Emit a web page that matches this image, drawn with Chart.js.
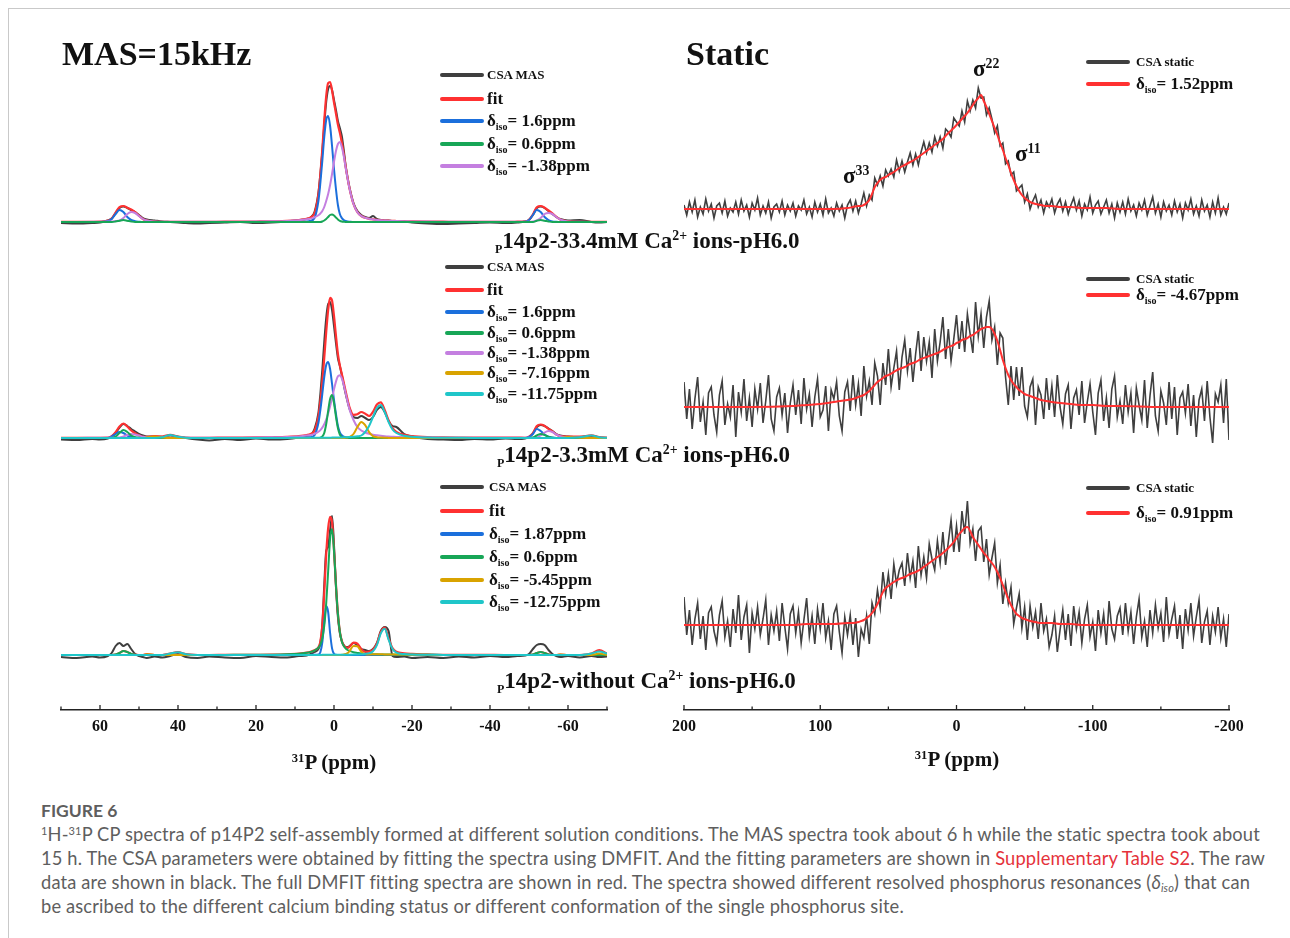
<!DOCTYPE html>
<html>
<head>
<meta charset="utf-8">
<script src="https://cdn.jsdelivr.net/npm/chart.js@4.4.1/dist/chart.umd.min.js"></script>
<style>
  html, body { margin: 0; padding: 0; background: #fff; }
  body { width: 1290px; height: 938px; overflow: hidden; position: relative; font-family: "Liberation Serif", "Times New Roman", serif; }
  .frame { position: absolute; left: 8px; top: 8px; width: 1300px; height: 940px; border-top: 1.5px solid #c9c9c9; border-left: 1.5px solid #c9c9c9; }
  canvas { position: absolute; top: 0; }
  .t { position: absolute; font-weight: bold; color: #111; white-space: nowrap; line-height: 1; }
  .t sup { font-size: 0.6em; vertical-align: 0.55em; line-height: 0; }
  .row { position: absolute; height: 20px; display: flex; align-items: center; white-space: nowrap; font-weight: bold; color: #111; }
  .sw { height: 4px; border-radius: 2px; }
  .lt { line-height: 20px; font-size: 17px; }
  .lt.small { font-size: 13px; }
  .lt sub { font-size: 10px; vertical-align: -4px; line-height: 0; }
  .cap { position: absolute; left: 41px; font-family: Lato, "Open Sans", sans-serif; color: #5e5e5e; white-space: nowrap; font-size: 18.3px; letter-spacing: 0.15px; line-height: 24px; }
  .cap sup { font-size: 11px; vertical-align: 6px; line-height: 0; }
  .cap sub { font-size: 11px; vertical-align: -3px; line-height: 0; }
  .cap .link { color: #e5323b; }
  .fig { position: absolute; left: 41px; top: 799px; font-family: Lato, "Open Sans", sans-serif; font-weight: bold; color: #5e5e5e; font-size: 17.5px; line-height: 24px; }
</style>
</head>
<body>
<div class="frame"></div>
<canvas id="mas" width="645" height="790" style="left:0"></canvas>
<canvas id="static" width="645" height="790" style="left:645px"></canvas>

<div class="fig">FIGURE 6</div>
<div class="cap" style="top:822px">
<sup>1</sup>H-<sup>31</sup>P CP spectra of p14P2 self-assembly formed at different solution conditions. The MAS spectra took about 6 h while the static spectra took about<br>
15 h. The CSA parameters were obtained by fitting the spectra using DMFIT. And the fitting parameters are shown in <span class="link">Supplementary Table S2</span>. The raw<br>
data are shown in black. The full DMFIT fitting spectra are shown in red. The spectra showed different resolved phosphorus resonances (<i>δ<sub>iso</sub></i>) that can<br>
be ascribed to the different calcium binding status or different conformation of the single phosphorus site.
</div>

<script>
// ---- MAS (15 kHz) panel: chemical shift grid (ppm) and line heights ----
const masPpm = [70,66,62,60,58,57,56,55,54,53,
  52,51,50,49,48,46,44,42,40,38,
  35,32,28,24,20,16,12,9,7,6,
  5,4,3.5,3,2.5,2,1.5,1,0.5,0,
  -0.5,-1,-1.5,-2,-2.5,-3,-3.5,-4,-5,-6,
  -7,-8,-9,-10,-11,-12,-13,-14,-15,-16,
  -18,-20,-24,-28,-32,-36,-40,-44,-47,-49,
  -50,-51,-52,-53,-54,-55,-56,-57,-58,-60,
  -63,-66,-68,-70];

// 33.4 mM Ca2+
const s1Raw = [-1,-1.5,-1,-0.5,1.5,3.5,9,14,15.5,14,
  12,10,7,4,2.5,1.5,0.5,0,-0.5,-1,
  -1.5,-1,-0.5,0,-1,-0.5,0.5,2,3,4.5,
  10,29,48,70,97,120,133,136,132,122,
  112,101,94,86,72,56,44,34,19,11,
  7,5,4,6,3,2,1.5,1.5,1,1,
  0.5,-0.5,-1.5,-2,-1.5,-1,-0.5,-1,-0.5,0.5,
  2,7,14,15.5,14,11,8,5,3,1.5,
  2,0,-0.5,0];
const s1Fit = [0.1,0.1,0.2,0.3,1.4,3.5,9.5,14.8,16,14.3,
  12.5,9.8,6.3,3,1.5,0.5,0.2,0.2,0.15,0.15,
  0.15,0.2,0.3,0.35,0.5,0.7,1.1,2,3.2,4.7,
  8.6,27.7,47.5,72.5,101.5,126,139,140,131.5,119.5,
  108.5,97.5,89.2,79.5,68.2,55,43.5,33.3,18,9.8,
  6,4.2,3.2,2.6,2.1,1.7,1.5,1.3,1.1,1.0,
  0.8,0.6,0.4,0.3,0.2,0.2,0.2,0.2,0.3,0.6,
  2.3,7.5,14.8,16,14.3,11.5,8.6,5.2,2.5,0.6,
  0.2,0.1,0.1,0.1];
const s1Blue = [0,0,0,0,1,3,8,12,10,5,
  2,0.8,0.3,0,0,0,0,0,0,0,
  0,0,0,0,0,0,0,0.2,0.5,1.3,
  4,21,39,61,85,102,106,96,76,53,
  33,17,8,4,2,1,0.5,0.3,0,0,
  0,0,0,0,0,0,0,0,0,0,
  0,0,0,0,0,0,0,0,0,0.3,
  2,7,12,10,5,2,0.6,0.2,0,0,
  0,0,0,0];
const s1Green = [0,0,0,0,0,0,0.5,1.3,2,1.3,
  0.5,0,0,0,0,0,0,0,0,0,
  0,0,0,0,0,0,0,0,0,0,
  0,0,0,0.5,1.5,3,5,7,7.5,6.5,
  4.5,2.5,1.2,0.5,0.2,0,0,0,0,0,
  0,0,0,0,0,0,0,0,0,0,
  0,0,0,0,0,0,0,0,0,0,
  0,0,1.3,2,1.3,0.5,0,0,0,0,
  0,0,0,0];
const s1Purple = [0.1,0.1,0.2,0.3,0.4,0.5,1,1.5,4,8,
  10,9,6,3,1.5,0.5,0.2,0.2,0.15,0.15,
  0.15,0.2,0.3,0.35,0.5,0.7,1.1,1.8,2.7,3.4,
  4.6,6.7,8.5,11,15,21,28,37,48,60,
  71,78,80,75,66,54,43,33,18,9.8,
  6,4.2,3.2,2.6,2.1,1.7,1.5,1.3,1.1,1.0,
  0.8,0.6,0.4,0.3,0.2,0.2,0.2,0.2,0.3,0.3,
  0.3,0.5,1.5,4,8,9,8,5,2.5,0.6,
  0.2,0.1,0.1,0.1];

// 3.3 mM Ca2+
const s2Raw = [-1.5,-2,-1,-1.5,-0.5,1.5,5,10.5,14,12,
  9,6.5,4,2.5,1.5,1.5,1.2,2.5,1.2,0,
  -1.5,-2.5,-1,-2,-0.5,-1.5,-1,0.5,2,3,
  9,25,44,68,96,120,134,136,128,112,
  95,80,72,63,53,44,36,29,21,20,
  22,20,18,21,28,31,26,17,12,11,
  4,1.5,-1,-1.5,-2,-1,-1.5,-0.5,-1,-0.5,
  1,4.5,11,13,12,9.5,7,4,2.5,1.5,
  1,2,0.5,0];
const s2Fit = [0.1,0.1,0.2,0.25,0.3,1.85,5.9,11.5,14.5,11.5,
  7.5,4.7,2.8,1.2,1.1,1.8,1.5,3.2,1.4,0.5,
  0.2,0.25,0.35,0.43,0.55,0.75,1.12,1.85,2.97,4.08,
  7.2,21.5,36.6,56.2,80.2,105.8,127.8,140.2,137.4,122.1,
  102.4,84.2,72.6,64.1,55.4,46.4,37.9,30.5,23.2,23.7,
  26,24.3,22,26.2,33.5,35.6,28,17.6,9.8,6.1,
  3.1,1.9,0.9,0.57,0.4,0.3,0.3,0.3,0.3,0.25,
  1.25,4.8,12.1,13.5,12,9.2,6.7,3.5,1.8,1.5,
  1.3,2.6,0.9,0.3];
const s2Blue = [0,0,0,0,0,1.5,4,6,5,2.5,
  1,0.4,0,0,0,0,0,0,0,0,
  0,0,0,0,0,0,0,0.1,0.4,0.9,
  2.9,15,28,44,61,73,76,69,54,38,
  24,12,5.7,2.9,1.4,0.7,0.4,0.2,0,0,
  0,0,0,0,0,0,0,0,0,0,
  0,0,0,0,0,0,0,0,0,0,
  1,4,9,7,3.5,1.2,0.4,0,0,0,
  0,0,0,0];
const s2Green = [0,0,0,0,0,0,1.5,5,8,6,
  2.5,0.8,0.3,0,0,0,0,0,0,0,
  0,0,0,0,0,0,0,0,0,0,
  0,0.1,0.4,1.5,5,14,27,39,43,35,
  21.5,10,3.5,1,0.3,0,0,0,0,0,
  0,0,0,0,0,0,0,0,0,0,
  0,0,0,0,0,0,0,0,0,0,
  0,0.5,2.5,4,3,1,0.3,0,0,0,
  0,0,0,0];
const s2Purple = [0.1,0.1,0.2,0.25,0.3,0.35,0.4,0.5,1.5,3,
  4,3.5,2.5,1.2,0.6,0.3,0.2,0.2,0.2,0.2,
  0.2,0.25,0.25,0.33,0.45,0.65,1.0,1.6,2.4,3.0,
  4.1,6.2,7.9,10.4,13.9,18.5,24.5,31.8,40,48.7,
  56.4,61.7,62.8,59.6,53,44.6,36,28.2,18,11,
  7.5,5.5,4.2,3.3,2.7,2.2,1.8,1.5,1.3,1.1,
  0.9,0.7,0.5,0.35,0.25,0.2,0.2,0.2,0.2,0.25,
  0.25,0.3,0.6,2.5,5.5,7,6,3.5,1.8,0.5,
  0.2,0.1,0.1,0.1];
const s2Orange = [0,0,0,0,0,0,0,0,0,0,
  0,0,0,0,0.5,1.5,0.5,0,0,0,
  0,0,0,0,0,0,0,0,0,0,
  0,0,0,0,0,0,0,0,0,0,
  0,0,0,0,0,0.3,0.6,1.1,4,11,
  16,12.8,5.8,1.9,0.8,0.4,0.2,0.1,0,0,
  0,0,0,0,0,0,0,0,0,0,
  0,0,0,0,0,0,0,0,0,1,
  0.3,0,0,0];
const s2Cyan = [0,0,0,0,0,0,0,0,0,0,
  0,0,0,0,0,0,0.8,3,1.2,0.3,
  0,0,0.1,0.1,0.1,0.1,0.12,0.15,0.17,0.18,
  0.2,0.22,0.25,0.27,0.28,0.3,0.32,0.36,0.38,0.42,
  0.45,0.5,0.55,0.6,0.66,0.75,0.85,0.95,1.2,1.65,
  2.5,6,12,21,30,33,26,16,8.5,5,
  2.2,1.2,0.4,0.22,0.15,0.1,0.1,0.1,0.1,0.05,
  0.05,0,0,0,0,0,0,0,0,0,
  0.8,2.5,0.8,0.2];

// without Ca2+
const s3Raw = [-2,-3,-1.5,-2.5,-1,2,9,12,9,11,
  6,1,-1,-2,-3,-1.5,-2.5,-1,1,-2,
  -3,-1.5,-2.5,-3,-1,-2,-2.5,-1,-0.5,1,
  3,6,12,30,70,104,108,125,139,110,
  68,38,22,14,10,8,8,9,12,10,
  6,5,4,6,12,24,28,24,-1,-2,
  -1.5,-3,-2,-3,-1.5,-2.5,-1,-2,-1,-0.5,
  1,6,10,11,10,5,1,-1,-2,-1,
  -2.5,-1,-2,-1.5];
const s3Fit = [0,0,0,0,0,0,0.5,2,4,3,
  1,0.3,0,0,0.8,0,0,1.5,2.8,0.8,
  0,0,0.1,0.15,0.22,0.35,0.75,1.4,2.3,3.2,
  4.7,7.8,13.3,29.4,62,100.7,126.9,138.2,132.8,105.3,
  70.4,41.6,23.4,14,9.6,7.7,7.2,8.3,12.3,11.4,
  5.7,3.1,3.3,5.3,11.3,22.9,27.4,16.4,6.9,3.3,
  1.6,1.05,0.6,0.2,0.1,0.1,0.05,0,0,0,
  0,0.5,2,3,2,0.6,0,0,0.5,0,
  0,1.5,5,1.5];
const s3Blue = [0,0,0,0,0,0,0,0,0,0,
  0,0,0,0,0,0,0,0,0,0,
  0,0,0,0,0,0,0,0,0,0.1,
  0.2,0.4,2.8,12.6,32.5,49,43,22,6.6,1.1,
  0.2,0,0,0,0,0,0,0,0,0,
  0,0,0,0,0,0,0,0,0,0,
  0,0,0,0,0,0,0,0,0,0,
  0,0,0,0,0,0,0,0,0,0,
  0,0,0,0];
const s3Green = [0,0,0,0,0,0,0.5,2,4,3,
  1,0.3,0,0,0,0,0,0,0,0,
  0,0,0.1,0.15,0.22,0.35,0.7,1.3,2.2,3.0,
  4.4,7.3,10.4,16.7,29.3,51.6,83.7,116,126,104,
  70,41.4,23.2,13.6,8.9,6.4,5,4.1,2.8,2.1,
  1.5,1.2,0.95,0.8,0.65,0.55,0.5,0.45,0.4,0.35,
  0.3,0.25,0.18,0.1,0.1,0.1,0.05,0,0,0,
  0,0.5,2,3,2,0.6,0,0,0,0,
  0,0,0,0];
const s3Orange = [0,0,0,0,0,0,0,0,0,0,
  0,0,0,0,0.8,0,0,0,0,0,
  0,0,0,0,0,0,0,0,0,0,
  0,0,0,0,0,0,0,0,0,0,
  0,0,0,0.2,0.4,1,1.9,3.9,9.1,8.7,
  3.4,0.8,0.6,0.8,0.7,0.7,0.6,0.6,0.5,0.5,
  0.4,0.3,0.2,0,0,0,0,0,0,0,
  0,0,0,0,0,0,0,0,0.5,0,
  0,0,1.5,0];
const s3Cyan = [0,0,0,0,0,0,0,0,0,0,
  0,0,0,0,0,0,0,1.5,2.8,0.8,
  0,0,0,0,0,0,0.05,0.07,0.08,0.09,
  0.1,0.11,0.12,0.13,0.13,0.14,0.15,0.16,0.17,0.18,
  0.19,0.2,0.21,0.24,0.26,0.28,0.31,0.34,0.43,0.55,
  0.75,1.1,1.75,3.7,9.9,21.6,26.3,15.3,6,2.4,
  0.9,0.5,0.2,0.1,0,0,0,0,0,0,
  0,0,0,0,0,0,0,0,0,0,
  0,1.5,3.5,1.5];

// ---- Static panel: raw spectra every 2 ppm from 200 to -200 ----
const staticStart = 200, staticStep = 2;
const stRaw1 = [4,-6,7,-3,9,-8,2,-5,10,-2,5,-9,3,6,-4,8,-7,1,-3,7,
  -5,9,-2,4,-8,6,-1,11,-6,3,-4,7,-9,2,5,-3,8,-6,4,-2,
  6,-7,3,-1,9,-5,2,-8,7,-3,5,-6,10,-4,1,-7,6,-2,4,-9,
  4,9,-2,8,-4,5,16,3,14,9,31,24,33,23,39,33,40,32,49,38,
  48,37,47,56,44,55,44,57,67,56,66,57,72,63,72,61,80,77,72,91,
  87,83,98,87,108,98,109,101,121,111,112,94,101,90,76,83,63,66,45,48,
  34,37,18,21,24,7,15,0,8,14,2,9,-4,7,2,10,-4,5,10,-2,
  7,-5,4,11,-1,8,-7,5,-1,12,-4,4,8,-5,2,9,-4,5,-9,6,
  -3,7,-5,10,-2,4,-7,6,-1,9,-6,3,12,-4,5,-8,7,-2,4,-6,
  8,-3,5,-9,6,-1,10,-5,3,-7,9,-2,4,-8,7,-4,11,-6,2,-5,6];
const stRaw2 = [25,-12,18,-22,8,30,-15,5,-28,14,20,-8,-25,12,26,-18,3,-10,22,-30,
  15,-5,28,-14,9,-20,18,-2,24,-16,6,32,-12,-24,10,19,-8,14,-26,4,
  22,-8,17,-17,29,-2,13,-20,10,28,-10,-3,21,-24,17,8,25,-9,-24,15,
  25,-4,32,2,23,-9,41,11,26,2,44,31,2,44,22,58,20,39,56,17,
  50,67,36,59,25,53,76,36,70,46,65,29,78,46,65,90,48,78,46,68,
  92,58,86,55,93,73,54,105,71,93,59,90,106,67,80,42,74,69,30,2,
  41,7,40,11,40,1,-10,20,28,-18,20,12,-12,29,-3,21,-10,32,0,-17,
  13,22,-22,9,17,-8,26,-16,5,23,-5,-28,14,27,-14,9,-21,18,31,-10,
  6,-17,22,-5,14,-26,19,2,-13,27,-21,11,35,-9,-24,16,4,-18,25,-12,
  20,-28,9,15,-6,23,-19,12,-30,7,18,-14,26,-10,-36,13,5,22,-16,28,-33];
const stRaw3 = [28,-10,15,-20,6,22,-14,9,-25,12,18,-6,-18,10,24,-12,4,-22,16,-8,
  30,-15,8,20,-28,12,-4,18,-10,6,25,-20,10,-6,14,-16,22,-2,-24,11,
  19,-8,13,-18,5,27,-11,9,-19,16,-4,22,-13,4,-25,11,19,-7,-28,8,
  -10,10,-20,7,-32,-4,-13,9,-19,22,11,35,17,53,31,51,26,61,41,55,
  62,39,72,47,64,37,79,50,68,47,81,66,55,84,62,93,60,83,105,73,
  99,73,114,91,124,82,96,64,94,98,63,86,50,67,82,42,60,21,42,22,
  38,1,17,31,-3,18,-15,19,-2,13,-14,22,-6,6,-22,-10,9,-27,-5,15,
  -15,11,-21,19,-4,13,-18,6,20,-12,3,-26,15,-8,11,-20,24,-4,-14,9,
  17,-10,22,-6,13,-19,8,26,-12,4,-22,15,-8,20,-3,12,-17,28,-9,6,
  19,-14,10,-24,16,-5,22,-11,8,25,-18,3,14,-20,9,-7,18,-13,6,-22,11];

// DMFIT fits of the static spectra
const stFitPpm = [200,150,120,110,100,90,80,76,72,70,
  68,66,64,62,60,58,56,54,52,50,
  46,42,38,34,30,26,22,18,14,10,
  6,2,0,-2,-4,-6,-8,-10,-12,-14,
  -16,-18,-20,-22,-24,-26,-28,-30,-32,-34,
  -36,-38,-40,-42,-44,-46,-48,-50,-54,-58,
  -62,-66,-70,-76,-84,-92,-100,-110,-120,-150,
  -200];
const stFit1 = [0,0,0,0,0,0,1,2,3,3,
  4,6,9,15,22,26,29,31,32,34,
  37,41,44,47,50,54,58,62,66,70,
  76,81,84,87,90,93,96,100,104,108,
  111,114,108,102,95,88,81,74,66,59,
  51,44,36,29,23,18,14,11,7,5,
  4,3,3,2,2,1,1,1,0,0,
  0];
const stFit2 = [0,0,1,2,3,5,7,8,10,11,
  12,14,16,19,22,25,27,29,31,32,
  35,38,40,43,45,48,50,52,54,57,
  60,62,64,65,67,68,69,71,72,74,
  76,78,79,80,80,78,73,66,57,47,
  39,32,27,23,20,17,15,13,11,9,
  7,6,5,4,3,2,2,1,1,0,
  0];
const stFit3 = [0,0,0,1,1,1,2,2,3,4,
  5,7,9,12,16,21,27,33,37,39,
  43,46,48,51,53,56,60,64,68,72,
  77,83,87,91,94,97,98,94,88,84,
  80,76,72,69,65,62,58,53,47,40,
  33,26,20,15,11,9,7,6,4,3,
  2,2,2,1,1,0,0,0,0,0,
  0];

// vertical offsets of the stacked spectra (axis units = px above the x axis)
const masBase = [488, 272, 55];
const staticBase = [501, 303, 85];

const C = { raw: '#3f3f3f', fit: '#ff3131', blue: '#1b6fdc', green: '#17a657', purple: '#c47fe0', orange: '#d9a300', cyan: '#1fc6c9' };

function pts(xs, vals, base) { return vals.map((v, i) => ({ x: xs[i], y: base + v })); }
function staticPts(vals, base) { return vals.map((v, i) => ({ x: staticStart - i * staticStep, y: base + v })); }
function ds(data, color, width, order, smooth) {
  return { data, borderColor: color, borderWidth: width, pointRadius: 0, fill: false, order,
    cubicInterpolationMode: smooth ? 'monotone' : 'default', tension: 0 };
}

const masSets = [];
[[s1Raw, s1Fit, s1Blue, s1Green, s1Purple, null, null],
 [s2Raw, s2Fit, s2Blue, s2Green, s2Purple, s2Orange, s2Cyan],
 [s3Raw, s3Fit, s3Blue, s3Green, null, s3Orange, s3Cyan]].forEach((s, k) => {
  const b = masBase[k];
  masSets.push(ds(pts(masPpm, s[0], b), C.raw, 2, 9, true));
  masSets.push(ds(pts(masPpm, s[1], b), C.fit, 2.2, 8, true));
  if (s[2]) masSets.push(ds(pts(masPpm, s[2], b), C.blue, 2, 6, true));
  if (s[4]) masSets.push(ds(pts(masPpm, s[4], b), C.purple, 2, 5, true));
  if (s[3]) masSets.push(ds(pts(masPpm, s[3], b), C.green, 2, 4, true));
  if (s[5]) masSets.push(ds(pts(masPpm, s[5], b), C.orange, 2, 3, true));
  if (s[6]) masSets.push(ds(pts(masPpm, s[6], b), C.cyan, 2, 2, true));
});

const staticSets = [];
[[stRaw1, stFit1], [stRaw2, stFit2], [stRaw3, stFit3]].forEach((s, k) => {
  const b = staticBase[k];
  staticSets.push(ds(staticPts(s[0], b), C.raw, 1.6, 9, false));
  staticSets.push(ds(pts(stFitPpm, s[1], b), C.fit, 2, 8, true));
});

// small inward tick marks on the ppm axis
const innerTicks = {
  id: 'innerTicks',
  afterDraw(chart) {
    const sx = chart.scales.x, ctx = chart.ctx, y0 = chart.chartArea.bottom;
    ctx.save();
    ctx.strokeStyle = '#222';
    ctx.lineWidth = 1.3;
    sx.ticks.forEach(t => {
      const px = sx.getPixelForValue(t.value);
      ctx.beginPath();
      ctx.moveTo(px, y0);
      ctx.lineTo(px, y0 - (t.label ? 5 : 3.5));
      ctx.stroke();
    });
    ctx.restore();
  }
};

function makeChart(id, datasets, lim, step, every, pad) {
  return new Chart(document.getElementById(id), {
    type: 'line',
    data: { datasets },
    options: {
      responsive: false, animation: false, devicePixelRatio: 1,
      layout: { padding: pad },
      plugins: { legend: { display: false }, tooltip: { enabled: false } },
      scales: {
        x: {
          type: 'linear', min: -lim, max: lim, reverse: true,
          afterFit(s) { s.height = 80; },
          grid: { display: false, drawTicks: false, drawOnChartArea: false },
          border: { display: true, color: '#222', width: 1.5 },
          ticks: {
            stepSize: step, padding: 7, color: '#111', maxRotation: 0, autoSkip: false,
            font: { family: 'Liberation Serif', weight: 'bold', size: 16 },
            callback: v => (v % every === 0 && (Math.abs(v) < lim || lim === 200)) ? String(v) : ''
          }
        },
        y: { display: false, min: 0, max: 680 }
      }
    },
    plugins: [innerTicks]
  });
}

makeChart('mas', masSets, 70, 10, 20, { top: 30, left: 61, right: 38, bottom: 0 });
makeChart('static', staticSets, 200, 50, 100, { top: 30, left: 39, right: 61, bottom: 0 });

// ---- text: titles, legends, sample labels ----
function text(x, baseline, size, html, center) {
  const d = document.createElement('div');
  d.className = 't';
  d.style.left = x + 'px';
  d.style.top = (baseline - 0.8375 * size) + 'px';
  d.style.fontSize = size + 'px';
  if (center) d.style.transform = 'translateX(-50%)';
  d.innerHTML = html;
  document.body.appendChild(d);
}
function legend(x, w, gap, rows) {
  rows.forEach(([y, color, html, small]) => {
    const r = document.createElement('div');
    r.className = 'row';
    r.style.left = x + 'px';
    r.style.top = (y - 10) + 'px';
    r.innerHTML = '<span class="sw" style="width:' + w + 'px;background:' + color + '"></span>' +
      '<span class="lt' + (small ? ' small' : '') + '" style="margin-left:' + gap + 'px">' + html + '</span>';
    document.body.appendChild(r);
  });
}
const d = v => 'δ<sub>iso</sub>= ' + v + 'ppm';

text(62, 65, 34, 'MAS=15kHz');
text(686, 65, 34, 'Static');

legend(440, 44, 3, [[75, C.raw, 'CSA MAS', true], [99, C.fit, 'fit'], [121, C.blue, d('1.6')], [144, C.green, d('0.6')], [166, C.purple, d('-1.38')]]);
legend(445, 39, 3, [[267, C.raw, 'CSA MAS', true], [290, C.fit, 'fit'], [312, C.blue, d('1.6')], [333, C.green, d('0.6')],
  [353, C.purple, d('-1.38')], [373, C.orange, d('-7.16')], [394, C.cyan, d('-11.75')]]);
legend(440, 44, 5, [[487, C.raw, 'CSA MAS', true], [511, C.fit, 'fit'], [534, C.blue, d('1.87')], [557, C.green, d('0.6')],
  [580, C.orange, d('-5.45')], [602, C.cyan, d('-12.75')]]);

legend(1086, 44, 6, [[62, C.raw, 'CSA static', true], [84, C.fit, d('1.52')]]);
legend(1086, 44, 6, [[279, C.raw, 'CSA static', true], [295, C.fit, d('-4.67')]]);
legend(1086, 44, 6, [[488, C.raw, 'CSA static', true], [513, C.fit, d('0.91')]]);

const subP = '<span style="font-size:12px;vertical-align:-5px">P</span>';
text(495, 248, 23, subP + '14p2-33.4mM Ca<sup>2+</sup> ions-pH6.0');
text(497, 462, 23, subP + '14p2-3.3mM Ca<sup>2+</sup> ions-pH6.0');
text(497, 688, 23, subP + '14p2-without Ca<sup>2+</sup> ions-pH6.0');

text(973, 76, 23, 'σ<sup>22</sup>');
text(843, 183, 23, 'σ<sup>33</sup>');
text(1015, 161, 23, 'σ<sup>11</sup>');

// axis titles
text(334, 770, 21, '<sup>31</sup>P (ppm)', true);
text(957, 767, 21, '<sup>31</sup>P (ppm)', true);
</script>
</body>
</html>
